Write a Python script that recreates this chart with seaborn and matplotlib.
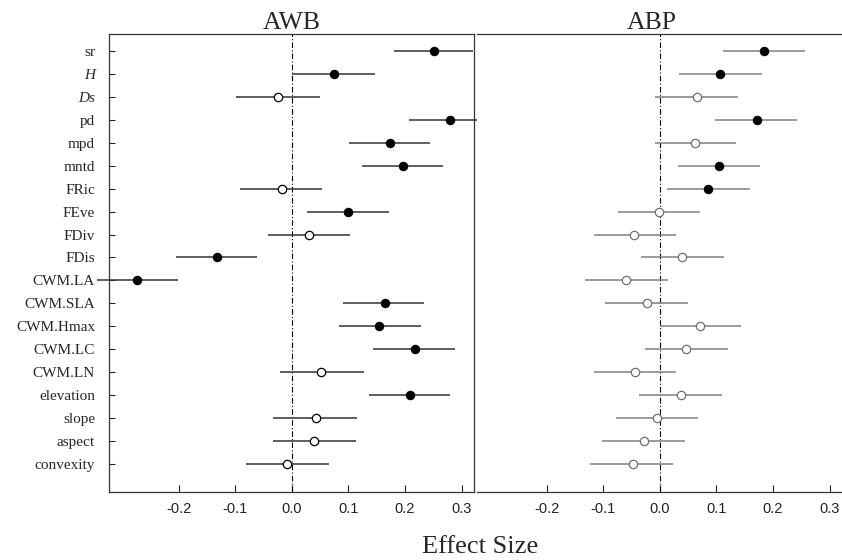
import numpy as np
import pandas as pd
import matplotlib.pyplot as plt
import seaborn as sns

variables = ["sr", "H", "Ds", "pd", "mpd", "mntd", "FRic", "FEve", "FDiv", "FDis",
             "CWM.LA", "CWM.SLA", "CWM.Hmax", "CWM.LC", "CWM.LN",
             "elevation", "slope", "aspect", "convexity"]
italic_vars = ["H", "Ds"]

# AWB effect sizes with lower / upper limits
awb_est = [0.251, 0.075, -0.025, 0.280, 0.174, 0.197, -0.018, 0.099, 0.031, -0.133,
           -0.273, 0.164, 0.155, 0.218, 0.052, 0.209, 0.042, 0.040, -0.009]
awb_lo = [0.180, 0.001, -0.098, 0.208, 0.101, 0.124, -0.091, 0.027, -0.042, -0.205,
          -0.345, 0.091, 0.084, 0.144, -0.021, 0.136, -0.033, -0.033, -0.081]
awb_hi = [0.320, 0.147, 0.049, 0.348, 0.244, 0.268, 0.054, 0.172, 0.103, -0.062,
          -0.201, 0.234, 0.228, 0.288, 0.127, 0.280, 0.115, 0.113, 0.066]
awb_sig = [1, 1, 0, 1, 1, 1, 0, 1, 0, 1, 1, 1, 1, 1, 0, 1, 0, 0, 0]

# ABP effect sizes with lower / upper limits
abp_est = [0.185, 0.107, 0.066, 0.171, 0.063, 0.105, 0.085, -0.001, -0.045, 0.039,
           -0.060, -0.023, 0.071, 0.047, -0.043, 0.037, -0.005, -0.028, -0.048]
abp_lo = [0.112, 0.034, -0.008, 0.098, -0.009, 0.033, 0.012, -0.073, -0.117, -0.033,
          -0.133, -0.096, 0.000, -0.026, -0.117, -0.037, -0.078, -0.102, -0.123]
abp_hi = [0.256, 0.180, 0.138, 0.242, 0.135, 0.177, 0.159, 0.071, 0.029, 0.114,
          0.014, 0.049, 0.144, 0.120, 0.029, 0.110, 0.068, 0.045, 0.024]
abp_sig = [1, 1, 0, 1, 0, 1, 1, 0, 0, 0, 0, 0, 0, 0, 0, 0, 0, 0, 0]

xticks = [-0.2, -0.1, 0.0, 0.1, 0.2, 0.3]
xticklabels = ["-0.2", "-0.1", "0.0", "0.1", "0.2", "0.3"]

sns.set_style("ticks")
plt.rcParams['font.family'] = ['Liberation Serif', 'DejaVu Serif']


def make_df(est, lo, hi, sig):
    return pd.DataFrame({"var": variables, "pos": np.arange(len(variables)),
                         "est": est, "lo": lo, "hi": hi,
                         "sig": np.array(sig, dtype=bool)})


def forest(ax, df, line_col, open_edge, title, title_x):
    ax.hlines(df["pos"], df["lo"], df["hi"], color=line_col, lw=1.1,
              clip_on=False, zorder=2)
    ax.axvline(0, color="black", lw=0.8, ls=(0, (5, 2, 1, 2)), zorder=1)
    sns.scatterplot(data=df[df["sig"]], x="est", y="pos", color="black",
                    edgecolor="black", s=36, linewidth=0.8, ax=ax, zorder=3,
                    clip_on=False, legend=False)
    sns.scatterplot(data=df[~df["sig"]], x="est", y="pos", color="white",
                    edgecolor=open_edge, s=36, linewidth=0.9, ax=ax, zorder=3,
                    legend=False)
    ax.set_xlim(-0.323, 0.322)
    ax.set_ylim(len(variables) - 1 + 1.22, -0.74)
    ax.set_xticks(xticks)
    ax.set_xticklabels(xticklabels, family="Liberation Sans", fontsize=10.5)
    ax.tick_params(axis="x", direction="in", length=5, width=0.8, pad=7,
                   colors="#222222")
    ax.set_xlabel("")
    ax.set_ylabel("")
    ax.set_title(title, fontsize=18.5, pad=3, x=title_x)
    for s in ax.spines.values():
        s.set_linewidth(0.9)
        s.set_color("#333333")


fig = plt.figure(figsize=(8.42, 5.6), dpi=100)
ax1 = fig.add_axes([109 / 842, 68 / 560, 365 / 842, 458 / 560])
ax2 = fig.add_axes([477 / 842, 68 / 560, 365 / 842, 458 / 560])

forest(ax1, make_df(awb_est, awb_lo, awb_hi, awb_sig), "#333333", "black", "AWB", 0.5)
forest(ax2, make_df(abp_est, abp_lo, abp_hi, abp_sig), "#808080", "#707070", "ABP", 0.48)

ax1.set_yticks(np.arange(len(variables)))
ax1.set_yticklabels(variables, fontsize=11)
for lab in ax1.get_yticklabels():
    if lab.get_text() in italic_vars:
        lab.set_fontstyle("italic")
ax1.tick_params(axis="y", direction="in", length=4, width=0.8, pad=10)

ax2.set_yticks([])
ax2.spines["left"].set_visible(False)
ax2.spines["right"].set_visible(False)

fig.text(480 / 842, 13 / 560, "Effect Size", ha="center", va="center", fontsize=19)

fig.savefig("out.png", dpi=100)
